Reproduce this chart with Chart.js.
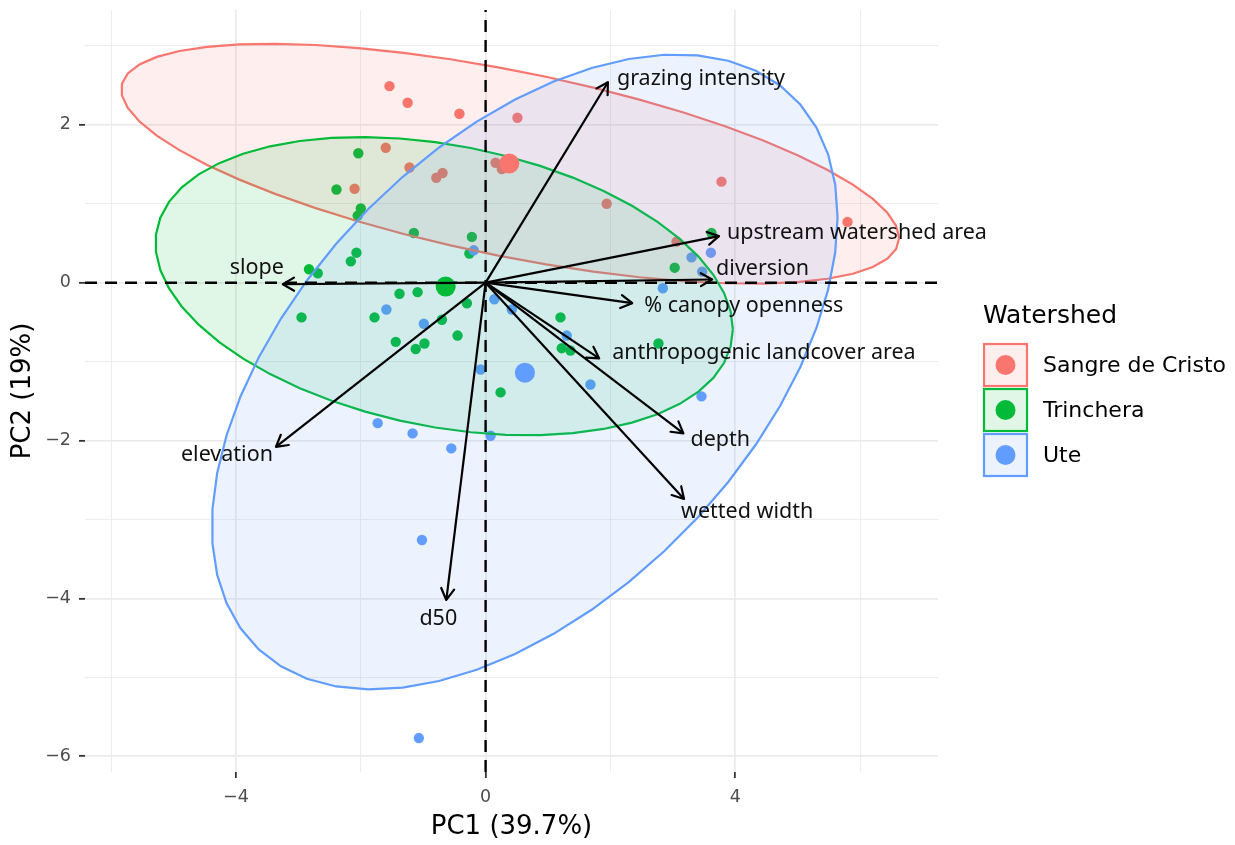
<!DOCTYPE html>
<html>
<head>
<meta charset="utf-8">
<script src="https://cdn.jsdelivr.net/npm/chart.js@4.4.1/dist/chart.umd.min.js"></script>
<style>
  html, body { margin: 0; padding: 0; background: #fff; }
  canvas { display: block; }
</style>
</head>
<body>
<canvas id="pca" width="1235" height="845"></canvas>
<script>
// watersheds and their colours
const groups = ['Sangre de Cristo', 'Trinchera', 'Ute'];
const groupColors = ['#F8766D', '#00BA38', '#619CFF'];

// site scores on PC1 / PC2
const sangreX = [-1.54, -1.25, -0.42, 0.51, -1.60, -1.22, -2.10, -0.69, -0.79, 0.16, 0.26, 3.78, 1.94, 5.80, 3.06];
const sangreY = [2.49, 2.28, 2.14, 2.09, 1.71, 1.46, 1.19, 1.39, 1.33, 1.52, 1.44, 1.28, 1.00, 0.77, 0.52];

const trincheraX = [-2.04, -2.39, -2.00, -2.05, -1.15, -0.22, -0.26, -2.07, -2.16, -2.83, -2.69, -1.38, -1.09, -2.95,
  -1.78, -0.30, -0.70, -0.45, -1.44, -0.98, -1.12, 0.24, 1.20, 1.22, 1.36, 2.77, 3.62, 3.03];
const trincheraY = [1.64, 1.18, 0.94, 0.85, 0.63, 0.58, 0.37, 0.38, 0.27, 0.17, 0.12, -0.14, -0.12, -0.44,
  -0.44, -0.26, -0.47, -0.67, -0.75, -0.77, -0.84, -1.39, -0.44, -0.83, -0.86, -0.77, 0.63, 0.19];

const uteX = [-0.19, -1.59, -0.99, 0.14, 0.42, 1.30, -0.08, 1.68, 3.46, 0.08, -1.73, -1.17, -0.55, -1.02, -1.07,
  3.61, 3.30, 3.47, 2.84];
const uteY = [0.41, -0.34, -0.52, -0.21, -0.34, -0.67, -1.10, -1.29, -1.44, -1.94, -1.78, -1.91, -2.10, -3.26, -5.77,
  0.38, 0.32, 0.14, -0.07];

// group centroids
const centroidX = [0.38, -0.64, 0.63];
const centroidY = [1.51, -0.05, -1.14];

// variable loadings (arrows)
const varNames = ['grazing intensity', 'upstream watershed area', 'diversion', '% canopy openness',
  'anthropogenic landcover area', 'depth', 'wetted width', 'd50', 'elevation', 'slope'];
const loadX = [1.96, 3.74, 3.63, 2.35, 1.82, 3.17, 3.18, -0.63, -3.36, -3.25];
const loadY = [2.54, 0.59, 0.04, -0.26, -0.96, -1.91, -2.74, -4.02, -2.08, -0.02];

// axis ticks
const xTicks = [-4, 0, 4];
const yTicks = [2, 0, -2, -4, -6];
const xMinor = [-6, -2, 2, 6];
const yMinor = [3, 1, -1, -3, -5];
const xLimits = [-6.42, 7.25];
const yLimits = [-6.20, 3.455];

// label placement relative to arrow tip, in pixels (styling only)
const labelStyle = [
  { dx: 9, dy: 3, align: 'left' },
  { dx: 8, dy: 3, align: 'left' },
  { dx: 4, dy: -5, align: 'left' },
  { dx: 12, dy: 9, align: 'left' },
  { dx: 13, dy: 1, align: 'left' },
  { dx: 7, dy: 13, align: 'left' },
  { dx: -3, dy: 19, align: 'left' },
  { dx: -8, dy: 25, align: 'center' },
  { dx: -3, dy: 14, align: 'right' },
  { dx: -26, dy: -10, align: 'center' }
];

function alpha(hex, a) {
  const n = parseInt(hex.slice(1), 16);
  return `rgba(${n >> 16},${(n >> 8) & 255},${n & 255},${a})`;
}

function toPoints(xs, ys) {
  return xs.map((x, i) => ({ x: x, y: ys[i] }));
}

// normal 95% ellipse as ggplot's stat_ellipse(type = "norm") does
function ellipse95(xs, ys) {
  const n = xs.length;
  const mx = xs.reduce((a, b) => a + b, 0) / n;
  const my = ys.reduce((a, b) => a + b, 0) / n;
  let sxx = 0, syy = 0, sxy = 0;
  for (let i = 0; i < n; i++) {
    sxx += (xs[i] - mx) ** 2;
    syy += (ys[i] - my) ** 2;
    sxy += (xs[i] - mx) * (ys[i] - my);
  }
  sxx /= n - 1; syy /= n - 1; sxy /= n - 1;
  const d = n - 1;
  const chi = Math.sqrt(d * (Math.pow(0.05, -2 / d) - 1)); // sqrt(2 * qf(.95, 2, d))
  const r11 = Math.sqrt(sxx), r12 = sxy / r11, r22 = Math.sqrt(syy - r12 * r12);
  const pts = [];
  const segs = 51;
  for (let i = 0; i <= segs; i++) {
    const t = i * 2 * Math.PI / segs;
    const c = Math.cos(t), s = Math.sin(t);
    pts.push({ x: mx + chi * c * r11, y: my + chi * (c * r12 + s * r22) });
  }
  return pts;
}

const groupX = [sangreX, trincheraX, uteX];
const groupY = [sangreY, trincheraY, uteY];

const datasets = [];

// loadings arrows (on top)
varNames.forEach((name, i) => {
  datasets.push({
    label: name,
    data: [{ x: 0, y: 0 }, { x: loadX[i], y: loadY[i] }],
    showLine: true, borderColor: '#000', borderWidth: 2.2, pointRadius: 0, order: 0
  });
});

// centroids
groups.forEach((g, i) => {
  datasets.push({
    label: g + ' centroid',
    data: [{ x: centroidX[i], y: centroidY[i] }],
    backgroundColor: groupColors[i], borderWidth: 0, pointRadius: 10, order: 1
  });
});

// zero reference lines
datasets.push({
  label: 'h0', data: [{ x: xLimits[0], y: 0 }, { x: xLimits[1], y: 0 }],
  showLine: true, borderColor: '#000', borderWidth: 2.4, borderDash: [12, 8], pointRadius: 0, order: 2
});
datasets.push({
  label: 'v0', data: [{ x: 0, y: yLimits[0] }, { x: 0, y: yLimits[1] }],
  showLine: true, borderColor: '#000', borderWidth: 2.4, borderDash: [12, 8], pointRadius: 0, order: 2
});

// ellipses (blue drawn last)
groups.forEach((g, i) => {
  datasets.push({
    label: g + ' ellipse',
    data: ellipse95(groupX[i], groupY[i]),
    showLine: true, fill: 'shape', tension: 0,
    borderColor: groupColors[i], backgroundColor: alpha(groupColors[i], 0.12),
    borderWidth: 2.2, pointRadius: 0, order: 5 - i
  });
});

// site points (underneath ellipses)
groups.forEach((g, i) => {
  datasets.push({
    label: g,
    data: toPoints(groupX[i], groupY[i]),
    backgroundColor: groupColors[i], borderWidth: 0, pointRadius: 5.2, order: 10 - i
  });
});

const arrowPlugin = {
  id: 'arrowHeads',
  afterDatasetsDraw(chart) {
    const { ctx, scales: { x, y } } = chart;
    const x0 = x.getPixelForValue(0), y0 = y.getPixelForValue(0);
    ctx.save();
    ctx.strokeStyle = '#000';
    ctx.lineWidth = 2.2;
    ctx.lineCap = 'round';
    ctx.lineJoin = 'round';
    varNames.forEach((name, i) => {
      const px = x.getPixelForValue(loadX[i]), py = y.getPixelForValue(loadY[i]);
      const ang = Math.atan2(py - y0, px - x0);
      const len = 13, spread = Math.PI / 6;
      ctx.beginPath();
      ctx.moveTo(px - len * Math.cos(ang - spread), py - len * Math.sin(ang - spread));
      ctx.lineTo(px, py);
      ctx.lineTo(px - len * Math.cos(ang + spread), py - len * Math.sin(ang + spread));
      ctx.stroke();
    });
    ctx.fillStyle = '#111';
    ctx.font = '21.5px "Noto Sans"';
    ctx.textBaseline = 'alphabetic';
    varNames.forEach((name, i) => {
      const px = x.getPixelForValue(loadX[i]), py = y.getPixelForValue(loadY[i]);
      const st = labelStyle[i];
      ctx.textAlign = st.align;
      ctx.fillText(name, px + st.dx, py + st.dy);
    });
    ctx.restore();
  }
};

const legendPlugin = {
  id: 'watershedLegend',
  afterDraw(chart) {
    const { ctx } = chart;
    ctx.save();
    ctx.fillStyle = '#000';
    ctx.font = '25px "DejaVu Sans"';
    ctx.textAlign = 'left';
    ctx.textBaseline = 'alphabetic';
    ctx.fillText('Watershed', 983, 323);
    groups.forEach((g, i) => {
      const top = 343 + i * 45;
      ctx.fillStyle = '#fff';
      ctx.fillRect(984, top + 1, 43, 42);
      ctx.fillStyle = alpha(groupColors[i], 0.12);
      ctx.fillRect(984, top + 1, 43, 42);
      ctx.strokeStyle = groupColors[i];
      ctx.lineWidth = 2.2;
      ctx.strokeRect(984, top + 1, 43, 42);
      ctx.fillStyle = groupColors[i];
      ctx.beginPath();
      ctx.arc(1005.5, top + 22, 10, 0, Math.PI * 2);
      ctx.fill();
      ctx.fillStyle = '#000';
      ctx.font = '22px "DejaVu Sans"';
      ctx.textBaseline = 'middle';
      ctx.fillText(g, 1043, top + 23);
      ctx.textBaseline = 'alphabetic';
    });
    ctx.restore();
  }
};

function fmt(v) {
  return v < 0 ? '\u2212' + Math.abs(v) : String(v);
}

const tickFont = { family: '"DejaVu Sans"', size: 17.5 };
const titleFont = { family: '"DejaVu Sans"', size: 26 };

new Chart(document.getElementById('pca'), {
  type: 'scatter',
  data: { datasets: datasets },
  options: {
    responsive: false,
    animation: false,
    devicePixelRatio: 1,
    layout: { padding: { top: 8, right: 297, bottom: 0, left: 0 } },
    plugins: { legend: { display: false }, tooltip: { enabled: false } },
    scales: {
      x: {
        type: 'linear', min: xLimits[0], max: xLimits[1],
        afterBuildTicks: s => { s.ticks = xTicks.concat(xMinor).sort((a, b) => a - b).map(v => ({ value: v })); },
        afterFit: s => { s.height = 73; s.paddingLeft = 0; s.paddingRight = 0; },
        border: { display: false },
        grid: {
          color: '#EBEBEB',
          lineWidth: c => xTicks.includes(c.tick.value) ? 1.7 : 0.9,
          drawTicks: true, tickLength: 6,
          tickColor: c => xTicks.includes(c.tick.value) ? '#333' : 'rgba(0,0,0,0)',
          tickWidth: 1.8
        },
        ticks: {
          autoSkip: false, maxRotation: 0, padding: 9, color: '#4D4D4D', font: tickFont,
          callback: v => xTicks.includes(v) ? fmt(v) : ''
        },
        title: { display: true, text: 'PC1 (39.7%)', color: '#000', font: titleFont, padding: { top: 0, bottom: 2 } }
      },
      y: {
        type: 'linear', min: yLimits[0], max: yLimits[1],
        afterBuildTicks: s => { s.ticks = yTicks.concat(yMinor).sort((a, b) => a - b).map(v => ({ value: v })); },
        afterFit: s => { s.width = 85; s.paddingTop = 0; s.paddingBottom = 0; },
        border: { display: false },
        grid: {
          color: '#EBEBEB',
          lineWidth: c => yTicks.includes(c.tick.value) ? 1.7 : 0.9,
          drawTicks: true, tickLength: 6,
          tickColor: c => yTicks.includes(c.tick.value) ? '#333' : 'rgba(0,0,0,0)',
          tickWidth: 1.8
        },
        ticks: {
          autoSkip: false, padding: 8, color: '#4D4D4D', font: tickFont,
          callback: v => yTicks.includes(v) ? fmt(v) : ''
        },
        title: { display: true, text: 'PC2 (19%)', color: '#000', font: titleFont, padding: { top: 8, bottom: 0 } }
      }
    }
  },
  plugins: [arrowPlugin, legendPlugin]
});
</script>
</body>
</html>
